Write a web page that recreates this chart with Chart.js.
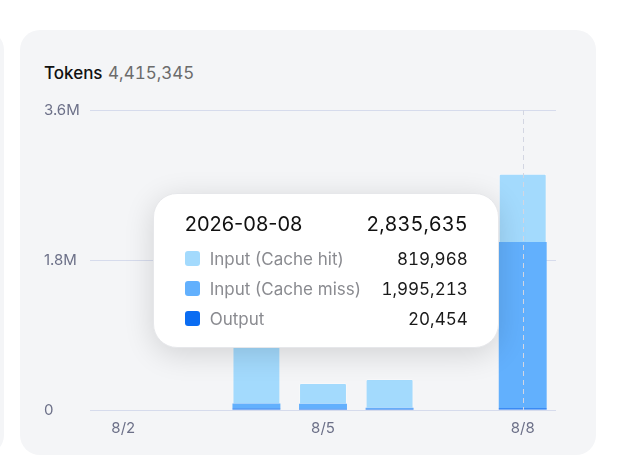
<!DOCTYPE html>
<html>
<head>
<meta charset="utf-8">
<script src="https://cdn.jsdelivr.net/npm/chart.js"></script>
<style>
  html, body { margin: 0; padding: 0; background: #fff; font-family: Inter, "Noto Sans", sans-serif; }
  body { width: 627px; height: 466px; position: relative; overflow: hidden; }
  .card { position: absolute; background: #f4f5f7; border-radius: 20px; }
  .card.side { left: -300px; top: 30px; width: 304px; height: 425px; }
  .card.main { left: 20px; top: 30px; width: 576px; height: 425px; }
  .title { position: absolute; left: 44px; top: 63px; font-size: 17px; font-weight: 500; color: #111; }
  .title span { color: #6b6b6b; font-weight: 400; font-size: 17px; margin-left: 1px; font-variant-numeric: tabular-nums; }
  #chart { position: absolute; left: 0; top: 0; }
  #tip {
    position: absolute; background: #fff; border-radius: 24px; box-sizing: border-box;
    box-shadow: 0 6px 30px rgba(0,0,0,0.14); border: 1px solid #e6e7ea;
    padding: 12px 30px 0 31px; width: 346px; height: 155px; display: none;
  }
  #tip .head { display: flex; justify-content: space-between; font-size: 20px; color: #111; height: 36px; line-height: 36px; margin-bottom: 2px; }
  #tip .head .sum { font-variant-numeric: tabular-nums; }
  #tip .row { display: flex; align-items: center; height: 30px; font-size: 17px; }
  #tip .sw { width: 15px; height: 15px; border-radius: 3px; margin-right: 10px; }
  #tip .lab { color: #8a8b90; flex: 1; }
  #tip .val { color: #1a1a1a; font-variant-numeric: tabular-nums; }
</style>
</head>
<body>
<div class="card side"></div>
<div class="card main"></div>
<div class="title">Tokens <span id="total"></span></div>
<canvas id="chart" width="627" height="466"></canvas>
<div id="tip"></div>
<script>
const days = ['2026-08-02', '2026-08-03', '2026-08-04', '2026-08-05', '2026-08-06', '2026-08-07', '2026-08-08']
const cacheHit = [0, 0, 805210, 249380, 344890, 0, 819968]
const cacheMiss = [0, 0, 61320, 58940, 12460, 0, 1995213]
const output = [0, 0, 17180, 15680, 14650, 0, 20454]
const yTicks = [0, 1800000, 3600000]
const yTickLabels = ['0', '1.8M', '3.6M']

const colors = { hit: '#a3dafd', miss: '#62b0fd', output: '#0a6cf2' }
const fmt = n => n.toLocaleString('en-US')

const total = [...cacheHit, ...cacheMiss, ...output].reduce((a, b) => a + b, 0)
document.getElementById('total').textContent = fmt(total)

const labels = days.map(d => {
  const p = d.split('-')
  return parseInt(p[1]) + '/' + parseInt(p[2])
})

// Вертикальная пунктирная линия под активной точкой
const hoverLine = {
  id: 'hoverLine',
  afterDatasetsDraw(chart) {
    const active = chart.tooltip.getActiveElements()
    if (!active.length) return
    const x = active[0].element.x
    const { top, bottom } = chart.chartArea
    const ctx = chart.ctx
    ctx.save()
    ctx.strokeStyle = '#d3d6e2'
    ctx.lineWidth = 1
    ctx.setLineDash([5, 4])
    ctx.beginPath()
    ctx.moveTo(Math.round(x) + 0.5, top)
    ctx.lineTo(Math.round(x) + 0.5, bottom)
    ctx.stroke()
    ctx.restore()
  }
}

function externalTip(context) {
  const { chart, tooltip } = context
  const el = document.getElementById('tip')
  if (tooltip.opacity === 0 || !tooltip.dataPoints || !tooltip.dataPoints.length) {
    el.style.display = 'none'
    return
  }
  const i = tooltip.dataPoints[0].dataIndex
  const rows = [
    ['Input (Cache hit)', cacheHit[i], colors.hit],
    ['Input (Cache miss)', cacheMiss[i], colors.miss],
    ['Output', output[i], colors.output]
  ]
  const sum = cacheHit[i] + cacheMiss[i] + output[i]
  el.innerHTML = '<div class="head"><span>' + days[i] + '</span><span class="sum">' + fmt(sum) + '</span></div>' +
    rows.map(r => '<div class="row"><div class="sw" style="background:' + r[2] + '"></div>' +
      '<span class="lab">' + r[0] + '</span><span class="val">' + fmt(r[1]) + '</span></div>').join('')
  el.style.display = 'block'
  const area = chart.chartArea
  el.style.left = (tooltip.caretX - 24 - 346) + 'px'
  el.style.top = ((area.top + area.bottom) / 2 + 10 - 155 / 2) + 'px'
}

const chart = new Chart(document.getElementById('chart'), {
  type: 'bar',
  data: {
    labels: labels,
    datasets: [
      { label: 'Output', data: output, backgroundColor: colors.output, borderSkipped: false, borderRadius: 0 },
      { label: 'Input (Cache miss)', data: cacheMiss, backgroundColor: colors.miss, borderRadius: 0 },
      {
        label: 'Input (Cache hit)', data: cacheHit, backgroundColor: colors.hit,
        borderRadius: { topLeft: 2, topRight: 2 }, borderSkipped: 'bottom',
        borderWidth: 1, borderColor: 'rgba(255,255,255,0.35)'
      }
    ]
  },
  options: {
    responsive: false,
    animation: false,
    devicePixelRatio: 1,
    datasets: { bar: { barPercentage: 0.9, categoryPercentage: 0.8 } },
    layout: { padding: { left: 44, right: 71, top: 110, bottom: 20 } },
    interaction: { mode: 'index', intersect: false },
    plugins: {
      legend: { display: false },
      tooltip: { enabled: false, external: externalTip }
    },
    scales: {
      x: {
        stacked: true,
        grid: { display: false },
        border: { display: false },
        afterFit(scale) { scale.height = 36 },
        ticks: {
          autoSkip: false,
          maxRotation: 0,
          padding: 1,
          color: '#6c7088',
          font: { family: 'Inter', size: 15 },
          callback: (v, i) => i % 3 === 0 ? labels[i] : ''
        }
      },
      y: {
        stacked: true,
        min: 0,
        max: 3600000,
        border: { display: false },
        grid: { color: '#d6dbec', drawTicks: false },
        afterFit(scale) { scale.width = 46 },
        afterBuildTicks(scale) { scale.ticks = yTicks.map(v => ({ value: v })) },
        ticks: {
          crossAlign: 'far',
          padding: 10,
          color: '#6c7088',
          font: { family: 'Inter', size: 15 },
          callback: v => yTickLabels[yTicks.indexOf(v)]
        }
      }
    }
  },
  plugins: [hoverLine]
})

// Показываем подсказку для последнего дня
const last = days.length - 1
chart.tooltip.setActiveElements(
  [0, 1, 2].map(d => ({ datasetIndex: d, index: last })),
  { x: chart.getDatasetMeta(0).data[last].x, y: 260 }
)
chart.update()
</script>
</body>
</html>
